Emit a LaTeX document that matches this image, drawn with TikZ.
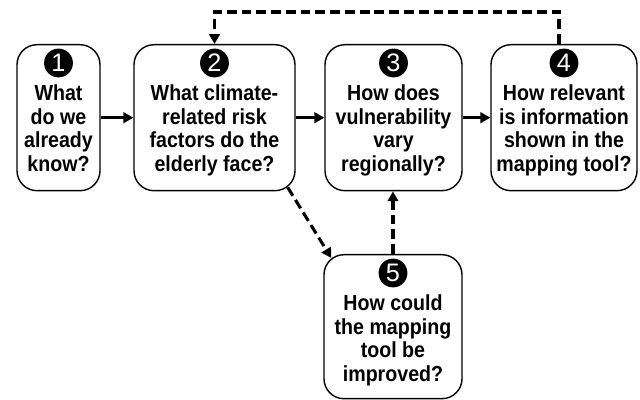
\documentclass[tikz,border=0pt]{standalone}
\usepackage{fontspec}
\setmainfont{Liberation Sans}
\newfontfamily\qfont[FakeStretch=0.9]{Liberation Sans}
\usepackage{tikz}
\usetikzlibrary{arrows.meta,positioning}
\newdimen\pxu
\pxu=0.025cm
\newcommand\qbox[6]{\node[qframe,minimum width=#4,minimum height=#5] (q#1) at (#2,#3) {};\node[qnum] (n#1) at ([yshift=-19\pxu]q#1.north) {#1};\node[qtext,below=7\pxu of n#1] (t#1) {#6};}
\tikzset{
qframe/.style={draw,line width=1pt,rounded corners=20\pxu,anchor=north,inner sep=0pt},
qnum/.style={circle,fill=black,text=white,minimum size=0.72cm,inner sep=0pt,font=\fontsize{18}{18}\selectfont},
qtext/.style={align=center,inner sep=0pt,font=\qfont\bfseries\fontsize{15.5}{16.7}\selectfont},
flow/.style={line width=2.2pt,-{Triangle[length=7pt,width=7.5pt]}},
dflow/.style={flow,dash pattern=on 7pt off 3.5pt}
}

\begin{document}
\begin{tikzpicture}[x=\pxu,y=\pxu]
\useasboundingbox (0,0) rectangle (640,400);
\qbox{1}{58.5}{356}{83\pxu}{146\pxu}{What\\do we\\already\\know?}
\qbox{2}{214.5}{356}{161\pxu}{146\pxu}{What climate-\\related risk\\factors do the\\elderly face?}
\qbox{3}{393.5}{356}{137\pxu}{146\pxu}{How does\\vulnerability\\vary\\regionally?}
\qbox{4}{564}{356}{146\pxu}{146\pxu}{How relevant\\is information\\shown in the\\mapping tool?}
\qbox{5}{393}{146}{138\pxu}{144\pxu}{How could\\the mapping\\tool be\\improved?}

\draw[flow] (q1.east) -- (q2.west);
\draw[flow] (q2.east) -- (q3.west);
\draw[flow] (q3.east) -- (q4.west);
\draw[dflow] ([xshift=-5\pxu]q4.north) -- ++(0,32) -| (q2.north);
\draw[dflow] ([shift={(-8,4)}]q2.south east) -- ([shift={(8,-4)}]q5.north west);
\draw[dflow] (q5.north) -- (q5.north |- q3.south);
\end{tikzpicture}
\end{document}
